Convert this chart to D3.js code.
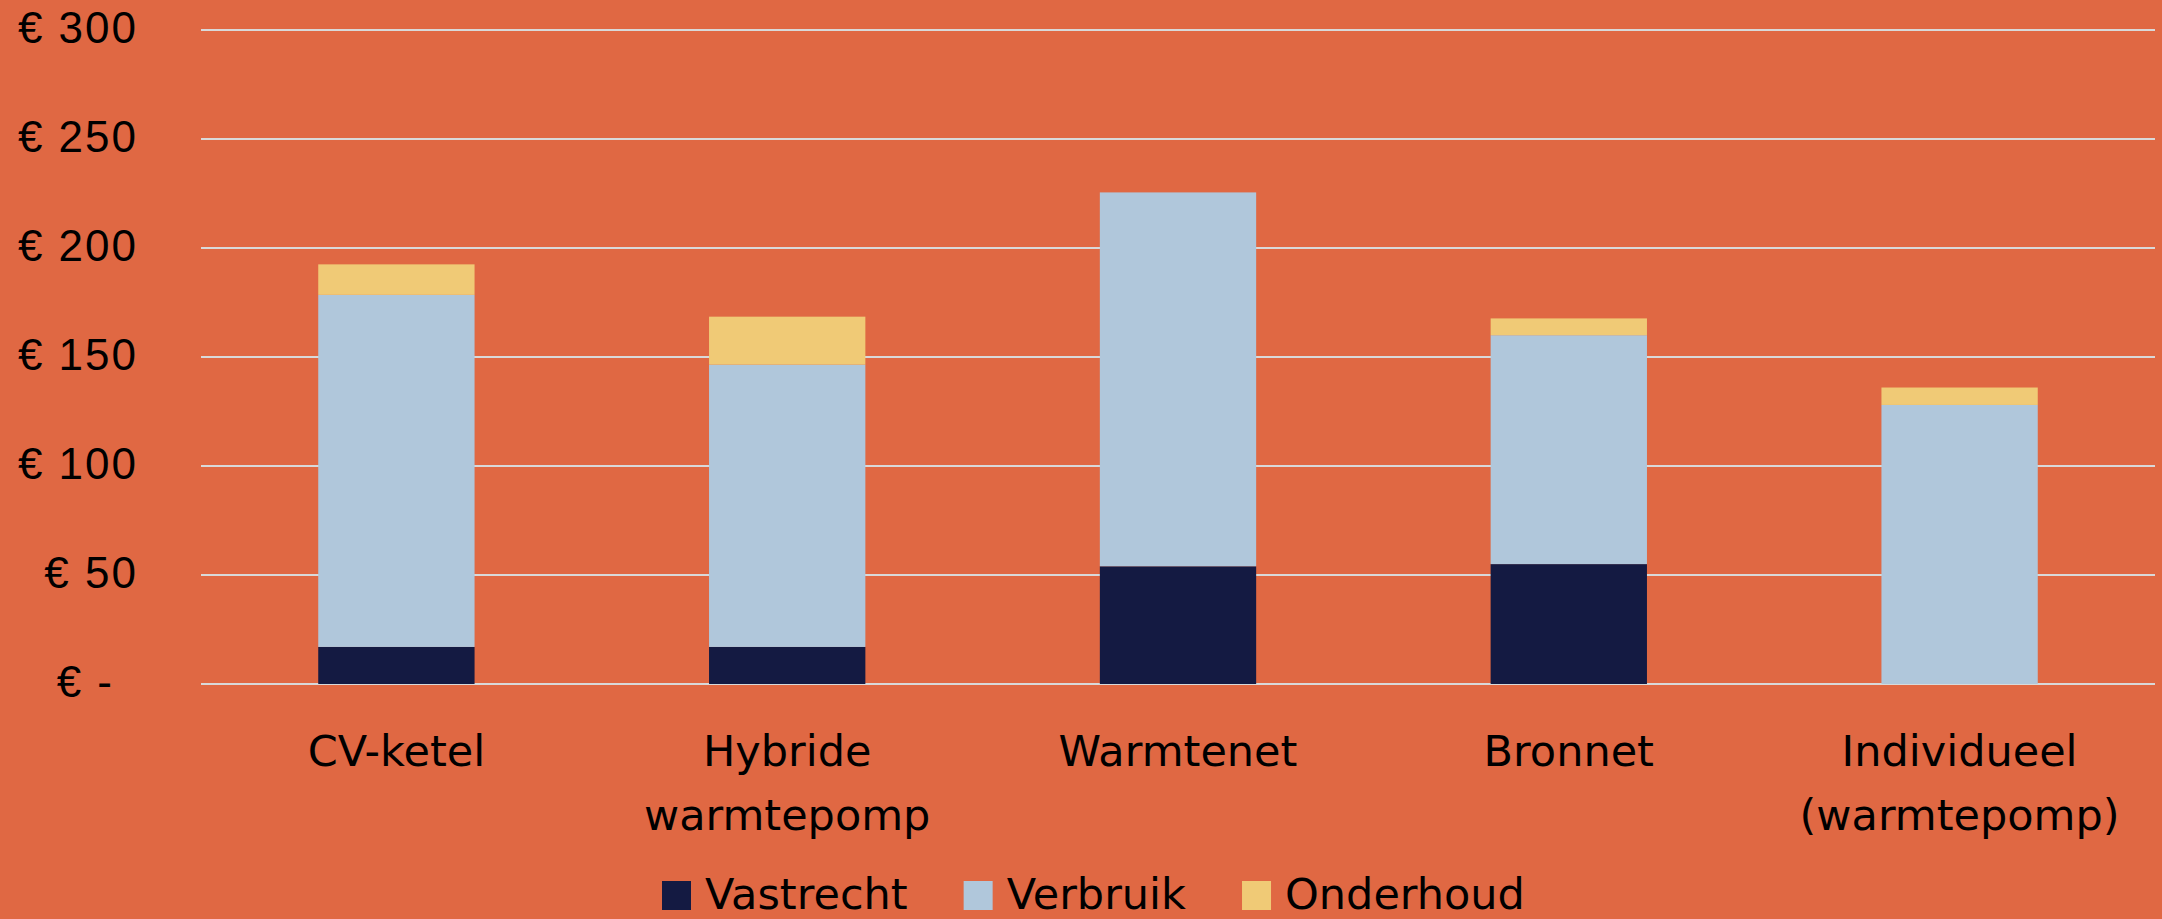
<!DOCTYPE html>
<html lang="nl">
<head>
  <meta charset="UTF-8">
  <title>Kosten per warmteoplossing</title>
  <style>
    html, body {
      margin: 0;
      padding: 0;
      background-color: rgb(224, 104, 67);
      overflow: hidden;
    }

    .grid line {
      stroke: rgb(217, 217, 217);
      stroke-width: 2;
    }

    .y-axis text {
      font-family: "Liberation Sans", Arial, sans-serif;
      font-size: 44px;
      letter-spacing: 2px;
      fill: #000;
    }

    .x-label, .legend text {
      font-family: "DejaVu Sans", sans-serif;
      font-size: 43px;
      fill: #000;
    }
  </style>
</head>
<body>
  <script src="https://d3js.org/d3.v7.min.js"></script>
  <script>
    const width = 2162,
          height = 919

    // data
    const categories = ['CV-ketel', 'Hybride\nwarmtepomp', 'Warmtenet', 'Bronnet', 'Individueel\n(warmtepomp)']
    const seriesNames = ['Vastrecht', 'Verbruik', 'Onderhoud']
    const vastrecht = [17, 17, 54, 55, 0]
    const verbruik = [161.5, 129.5, 171.5, 105, 128]
    const onderhoud = [14, 22, 0, 7.7, 8]
    const yTicks = [0, 50, 100, 150, 200, 250, 300]

    const colors = ['rgb(20, 26, 66)', 'rgb(176, 199, 219)', 'rgb(240, 202, 118)']

    const rows = categories.map((c, i) => ({
      category: c,
      Vastrecht: vastrecht[i],
      Verbruik: verbruik[i],
      Onderhoud: onderhoud[i],
    }))

    const x = d3.scaleBand()
      .domain(categories)
      .range([201, 2155])

    const y = d3.scaleLinear()
      .domain([0, 300])
      .range([684, 30])

    const color = d3.scaleOrdinal().domain(seriesNames).range(colors)

    const svg = d3.select('body')
      .append('svg')
      .attr('width', width)
      .attr('height', height)

    // gridlines
    svg.append('g')
      .attr('class', 'grid')
      .selectAll('line')
        .data(yTicks)
      .enter()
        .append('line')
        .attr('x1', x.range()[0])
        .attr('x2', x.range()[1])
        .attr('y1', d => Math.round(y(d)))
        .attr('y2', d => Math.round(y(d)))

    // y axis labels, "€ -" for zero like the spreadsheet's accounting format
    const yAxis = svg.append('g')
      .attr('class', 'y-axis')
      .attr('transform', 'translate(138,0)')
      .call(d3.axisLeft(y)
        .tickValues(yTicks)
        .tickSize(0)
        .tickPadding(0)
        .tickFormat(d => d === 0 ? '€ -' : `€ ${d}`))

    yAxis.select('.domain').remove()
    yAxis.selectAll('text')
      .attr('dy', '0.28em')
      .attr('font-size', null)
      .attr('font-family', null)
      .attr('x', d => d === 0 ? -24 : 0)

    // stacked bars
    const stacked = d3.stack().keys(seriesNames)(rows)
    const barWidth = x.bandwidth() * 0.4

    svg.append('g')
      .selectAll('g')
        .data(stacked)
      .enter()
        .append('g')
        .attr('fill', d => color(d.key))
      .selectAll('rect')
        .data(d => d)
      .enter()
        .filter(d => d[1] - d[0] > 0)
        .append('rect')
        .attr('x', d => x(d.data.category) + (x.bandwidth() - barWidth) / 2)
        .attr('width', barWidth)
        .attr('y', d => y(d[1]))
        .attr('height', d => y(d[0]) - y(d[1]))

    // category labels, top aligned, split on newline
    const labels = svg.append('g')
      .selectAll('text')
        .data(categories)
      .enter()
        .append('text')
        .attr('class', 'x-label')
        .attr('text-anchor', 'middle')
        .attr('x', d => x(d) + x.bandwidth() / 2)
        .attr('y', 766)

    labels.selectAll('tspan')
      .data(d => d.split('\n'))
      .enter()
        .append('tspan')
        .attr('x', function () { return this.parentNode.getAttribute('x') })
        .attr('dy', (d, i) => i === 0 ? 0 : 64)
        .text(d => d)

    // legend (kept just inside the bottom edge)
    const legend = svg.append('g').attr('class', 'legend')
    const items = legend.selectAll('g')
      .data(seriesNames)
      .enter()
        .append('g')

    items.append('rect')
      .attr('width', 29)
      .attr('height', 29)
      .attr('y', 881)
      .attr('fill', d => color(d))

    items.append('text')
      .attr('x', 43)
      .attr('y', 909)
      .text(d => d)

    let offset = 0
    items.each(function () {
      const w = this.getBBox().width
      d3.select(this).attr('transform', `translate(${offset},0)`)
      offset += w + 56
    })
    const legendWidth = offset - 56
    legend.attr('transform', `translate(${Math.round(1093 - legendWidth / 2)},0)`)
  </script>
</body>
</html>
